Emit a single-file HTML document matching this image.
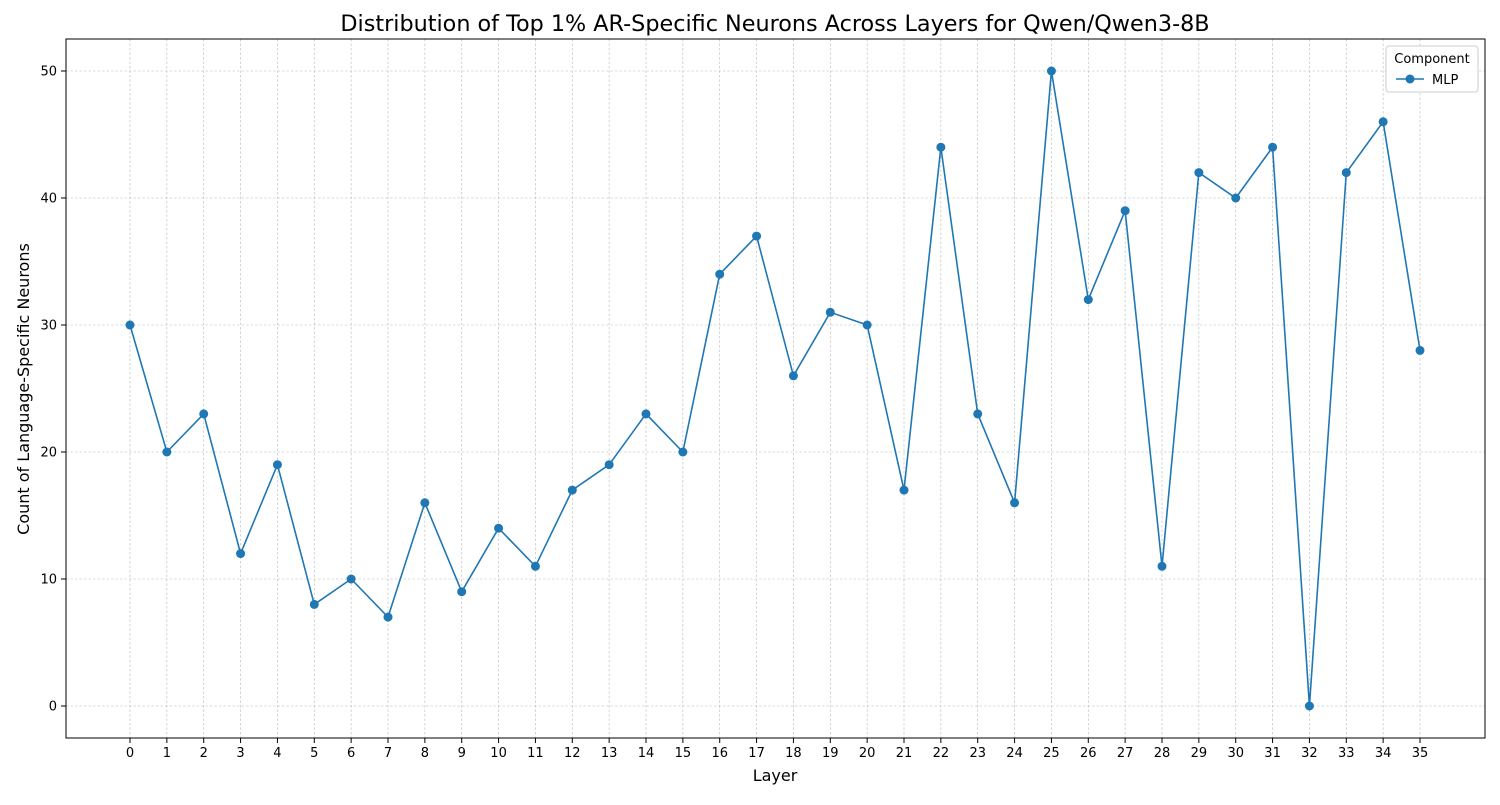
<!DOCTYPE html>
<html><head><meta charset="utf-8"><style>
body{margin:0;background:#fff;}
svg text{font-family:"DejaVu Sans","Liberation Sans",sans-serif;}
</style></head><body>
<svg id="chart" width="1500" height="800" xmlns="http://www.w3.org/2000/svg">
<rect width="1500" height="800" fill="#fff"/>
<text x="775" y="31" font-size="22.3" text-anchor="middle">Distribution of Top 1% AR-Specific Neurons Across Layers for Qwen/Qwen3-8B</text>
<g id="grid"></g>
<g id="ticks"></g>
<rect x="66" y="39" width="1419" height="699" fill="none" stroke="#000" stroke-width="1"/>
<g id="series"></g>
<text x="775" y="781" font-size="16" text-anchor="middle">Layer</text>
<text x="0" y="0" font-size="16" text-anchor="middle" transform="translate(29,389) rotate(-90)">Count of Language-Specific Neurons</text>
<g>
<rect x="1386" y="46" width="92" height="46" rx="3" fill="#fff" fill-opacity="0.8" stroke="#ccc"/>
<text x="1432" y="63" font-size="13" text-anchor="middle">Component</text>
<line x1="1396" y1="79" x2="1424" y2="79" stroke="#1f77b4" stroke-width="1.5"/>
<circle cx="1410" cy="79" r="4.5" fill="#1f77b4"/>
<text x="1432" y="84" font-size="13">MLP</text>
</g>
</svg>
<script>
const layers=[0,1,2,3,4,5,6,7,8,9,10,11,12,13,14,15,16,17,18,19,20,21,22,23,24,25,26,27,28,29,30,31,32,33,34,35];
const mlpCounts=[30,20,23,12,19,8,10,7,16,9,14,11,17,19,23,20,34,37,26,31,30,17,44,23,16,50,32,39,11,42,40,44,0,42,46,28];
const yTicks=[0,10,20,30,40,50];
const NS="http://www.w3.org/2000/svg";
const xs=l=>130+l*(1420-130)/35;
const ys=v=>706-v*(706-71)/50;
function mk(t,a,p){const e=document.createElementNS(NS,t);for(const k in a)e.setAttribute(k,a[k]);p.appendChild(e);return e;}
const grid=document.getElementById('grid'),ticks=document.getElementById('ticks'),ser=document.getElementById('series');
layers.forEach(l=>{const x=xs(l);
const g=mk('line',{x1:x,x2:x,y1:39,y2:738,stroke:'#b8b8b8','stroke-width':0.6,'stroke-dasharray':'2.5,2'},grid);

mk('line',{x1:x,x2:x,y1:738,y2:743,stroke:'#000'},ticks);
const t=mk('text',{x:x,y:757,'font-size':13,'text-anchor':'middle'},ticks);t.textContent=l;
});
yTicks.forEach(v=>{const y=ys(v);
const g=mk('line',{x1:66,x2:1485,y1:y,y2:y,stroke:'#b8b8b8','stroke-width':0.6,'stroke-dasharray':'2.5,2'},grid);

mk('line',{x1:61,x2:66,y1:y,y2:y,stroke:'#000'},ticks);
const t=mk('text',{x:57,y:y+4.5,'font-size':13,'text-anchor':'end'},ticks);t.textContent=v;
});
const pl=mk('polyline',{points:layers.map((l,i)=>xs(l)+','+ys(mlpCounts[i])).join(' '),fill:'none',stroke:'#1f77b4','stroke-width':1.6},ser);

layers.forEach((l,i)=>{const c=mk('circle',{cx:xs(l),cy:ys(mlpCounts[i]),r:4.5,fill:'#1f77b4'},ser);
});
</script>
</body></html>
